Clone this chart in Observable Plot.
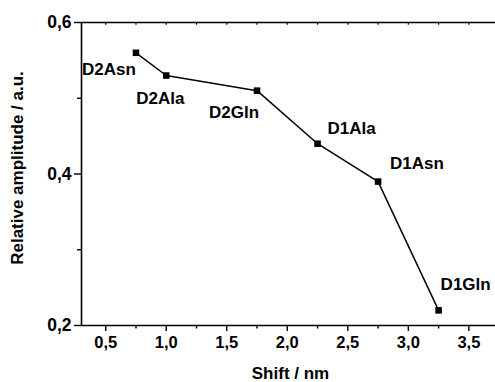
<!DOCTYPE html>
<html><head><meta charset="utf-8">
<script src="https://cdn.jsdelivr.net/npm/d3@7"></script>
<script src="https://cdn.jsdelivr.net/npm/@observablehq/plot@0.6"></script>
<style>body{margin:0;background:#fff}</style>
</head><body><div id="chart"></div>
<script>
// ---- data ----
const labels = ["D2Asn", "D2Ala", "D2Gln", "D1Ala", "D1Asn", "D1Gln"];
const shift = [0.75, 1.0, 1.75, 2.25, 2.75, 3.25];
const amplitude = [0.56, 0.53, 0.51, 0.44, 0.39, 0.22];
const xMajorTicks = [0.5, 1.0, 1.5, 2.0, 2.5, 3.0, 3.5];
const xMinorTicks = [0.75, 1.25, 1.75, 2.25, 2.75, 3.25];
const xTopTicks = [0.5, 0.75, 1.0, 1.25, 1.5, 1.75, 2.0, 2.25, 2.5, 2.75, 3.0, 3.25, 3.5];
const yMajorTicks = [0.2, 0.4, 0.6];
const yMinorTicks = [0.3, 0.5];
const xTitle = "Shift / nm";
const yTitle = "Relative amplitude / a.u.";

// ---- layout (label offsets in px) ----
const labelOffsets = {
  D2Asn: [-54, 17], D2Ala: [-30, 23], D2Gln: [-48, 22],
  D1Ala: [10, -15], D1Asn: [12, -18], D1Gln: [2, -26]
};
const xDomain = [0.3, 3.72];
const yDomain = [0.2, 0.6];
const FONT = "Liberation Sans, Arial, Helvetica, sans-serif";
const FS = 16.5;
const LFS = 17;

const data = labels.map((label, i) => ({label, x: shift[i], y: amplitude[i]}));
const fmt = d => d.toFixed(1).replace(".", ",");

const chart = Plot.plot({
  width: 495,
  height: 382,
  marginLeft: 81,
  marginRight: 0,
  marginTop: 22,
  marginBottom: 57,
  style: {fontFamily: FONT, fontSize: FS + "px", fontWeight: "bold", color: "black", background: "white"},
  x: {domain: xDomain},
  y: {domain: yDomain},
  marks: [
    Plot.ruleX([xDomain[0]], {stroke: "black", strokeWidth: 1.6}),
    Plot.ruleY(yDomain, {stroke: "black", strokeWidth: 1.6}),
    Plot.ruleX(xTopTicks, {y1: 0.6, y2: 0.5965, stroke: "black", strokeWidth: 1.2}),
    Plot.axisX(xMajorTicks, {tickSize: 6, tickPadding: 5, tickFormat: fmt, label: null, fontSize: FS, fontWeight: "bold", strokeWidth: 1.4}),
    Plot.axisX(xMinorTicks, {tickSize: 3.5, tickFormat: () => "", label: null, strokeWidth: 1.4}),
    Plot.axisY(yMajorTicks, {tickSize: 7, tickPadding: 3, tickFormat: fmt, label: null, fontSize: 17.5, fontWeight: "bold", strokeWidth: 1.4}),
    Plot.axisY(yMinorTicks, {tickSize: 4, tickFormat: () => "", label: null, strokeWidth: 1.4}),
    Plot.line(data, {x: "x", y: "y", stroke: "black", strokeWidth: 1.5}),
    Plot.dot(data, {x: "x", y: "y", symbol: "square", r: 3.7, fill: "black", stroke: "none"}),
    ...labels.map(l => Plot.text(data.filter(d => d.label === l), {
      x: "x", y: "y", text: "label", textAnchor: "start",
      dx: labelOffsets[l][0], dy: labelOffsets[l][1],
      fontSize: LFS, fontWeight: "bold", fill: "black"
    })),
    Plot.text([xTitle], {frameAnchor: "bottom", textAnchor: "middle", lineAnchor: "middle", dx: 2, dy: 48, fontSize: LFS, fontWeight: "bold", fill: "black"}),
    Plot.text([yTitle], {frameAnchor: "left", textAnchor: "middle", lineAnchor: "middle", rotate: -90, dx: -64, dy: -6, fontSize: LFS, fontWeight: "bold", fill: "black"})
  ]
});
document.getElementById("chart").appendChild(chart);
</script>
</body></html>
